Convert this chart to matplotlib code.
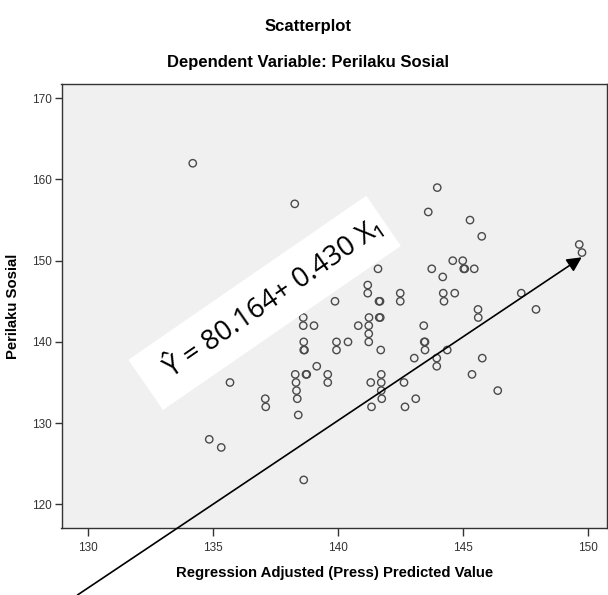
import matplotlib
matplotlib.use("Agg")
import matplotlib.pyplot as plt
from matplotlib.patches import Rectangle
from matplotlib.transforms import IdentityTransform

# ---- data ----
pred_x = [134.18, 138.26, 143.96, 143.60, 145.27, 145.74, 149.64, 149.75,
          141.59, 143.74, 144.58, 144.98, 145.02, 145.06, 145.44, 144.18,
          141.18, 141.18, 141.63, 141.67, 142.48, 142.48, 144.20, 144.66,
          144.23, 139.87, 147.32, 147.91, 145.59, 145.60, 141.23, 141.64,
          141.68, 138.60, 138.60, 139.03, 140.80, 141.22, 141.22, 141.22,
          141.70, 138.62, 138.62, 138.65, 139.93, 139.93, 140.39, 139.14,
          138.71, 138.74, 138.28, 138.31, 138.33, 138.36, 139.58, 139.58,
          137.08, 137.10, 141.30, 141.72, 141.72, 141.72, 141.74, 141.33,
          135.67, 134.84, 135.32, 138.62, 138.40, 143.42, 143.44, 143.47,
          143.47, 143.04, 143.94, 143.94, 144.36, 145.76, 145.35, 146.38,
          142.63, 142.67, 143.10]
social_y = [162, 157, 159, 156, 155, 153, 152, 151,
            149, 149, 150, 150, 149, 149, 149, 148,
            147, 146, 145, 145, 146, 145, 146, 146,
            145, 145, 146, 144, 144, 143, 143, 143,
            143, 143, 142, 142, 142, 142, 141, 140,
            139, 140, 139, 139, 140, 139, 140, 137,
            136, 136, 136, 135, 134, 133, 136, 135,
            133, 132, 135, 136, 135, 134, 133, 132,
            135, 128, 127, 123, 131, 142, 140, 140,
            139, 138, 138, 137, 139, 138, 136, 134,
            135, 132, 133]

x_ticks = [130, 135, 140, 145, 150]
y_ticks = [120, 130, 140, 150, 160, 170]

title = "Scatterplot"
subtitle = "Dependent Variable: Perilaku Sosial"
x_label = "Regression Adjusted (Press) Predicted Value"
y_label = "Perilaku Sosial"
equation = "Ŷ = 80.164+ 0.430 X₁"

FONT = "Liberation Sans"

# ---- figure ----
W, H = 608, 595
fig = plt.figure(figsize=(W / 100, H / 100), dpi=100)
fig.patch.set_facecolor("white")
ax = fig.add_axes([61.5 / W, 1 - 528 / H, (607 - 61.5) / W, (528 - 84) / H])
ax.set_facecolor("#f0f0f0")

ax.scatter(pred_x, social_y, s=28, facecolors="none", edgecolors="#4a4a4a",
           linewidths=1.0, zorder=3)

ax.set_xlim(128.93, 150.75)
ax.set_ylim(117.08, 171.76)
ax.set_xticks(x_ticks)
ax.set_yticks(y_ticks)
tick_font = dict(family=FONT, size=8.5, color="#333333")
ax.set_xticklabels([str(t) for t in x_ticks], **tick_font)
ax.set_yticklabels([str(t) for t in y_ticks], **tick_font)
ax.tick_params(axis="x", direction="out", length=6, width=1, color="#333333", pad=4)
ax.tick_params(axis="y", direction="out", length=5, width=1, color="#333333", pad=2)
for sp in ax.spines.values():
    sp.set_color("#333333")
    sp.set_linewidth(1.0)

lab_font = dict(family=FONT, weight="bold", size=10.7, color="black")
ax.set_xlabel(x_label, labelpad=9, **lab_font)
fig.text(13 / W, 1 - 306 / H, y_label, rotation=90, ha="center", va="center",
         **lab_font)

title_font = dict(family=FONT, weight="bold", size=12, color="black")
fig.text(0.507, 1 - 27 / H, title, ha="center", va="center", **title_font)
fig.text(0.507, 1 - 62 / H, subtitle, ha="center", va="center", **title_font)

# ---- white rotated box with the regression equation ----
ang = 34.6
box = Rectangle((163, H - 410), 289, 61, angle=ang, facecolor="white",
                edgecolor="none", transform=IdentityTransform(), zorder=5)
fig.add_artist(box)
fig.text(274, H - 298, equation, transform=IdentityTransform(), rotation=ang,
         rotation_mode="anchor", ha="center", va="center", fontsize=20,
         family=["Open Sans", "DejaVu Sans"], color="black", zorder=6)

# ---- arrow ----
ax.annotate("", xy=(149.74, 150.42), xytext=(129.57, 108.83),
            xycoords="data", textcoords="data", annotation_clip=False,
            arrowprops=dict(arrowstyle="-|>", color="black", lw=1.2,
                            mutation_scale=22, shrinkA=0, shrinkB=0),
            zorder=7)

fig.savefig("out.png", dpi=100)
